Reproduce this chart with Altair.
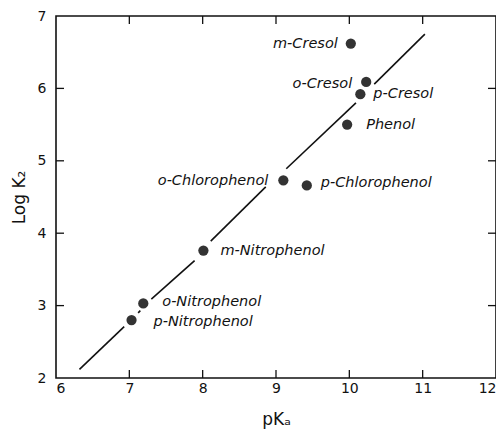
import altair as alt
import pandas as pd

# ---- data ----
names = ["m-Cresol", "o-Cresol", "p-Cresol", "Phenol", "o-Chlorophenol",
         "p-Chlorophenol", "m-Nitrophenol", "o-Nitrophenol", "p-Nitrophenol"]
pka = [10.02, 10.23, 10.15, 9.97, 9.10, 9.42, 8.01, 7.19, 7.03]
logk = [6.62, 6.09, 5.92, 5.50, 4.73, 4.66, 3.76, 3.03, 2.80]

# fitted line, drawn as broken segments (gaps around points/labels)
fit_seg = [0, 0, 1, 1, 2, 2, 3, 3, 4, 4, 5, 5]
fit_pka = [6.32, 6.93, 7.12, 7.15, 7.30, 7.89, 8.11, 8.86, 9.14, 10.09, 10.34, 11.03]
fit_logk = [2.12, 2.71, 2.90, 2.93, 3.09, 3.62, 3.89, 4.64, 4.89, 5.80, 6.06, 6.75]

x_ticks = [6, 7, 8, 9, 10, 11, 12]
y_ticks = [2, 3, 4, 5, 6, 7]
x_inner = [7, 8, 9, 10, 11]
y_inner = [3, 4, 5, 6]

# ---- layout / style (not data) ----
W, H = 440, 362
TICK = 8
FONT = "DejaVu Sans"
label_style = {
    "m-Cresol": ("right", -13, 0),
    "o-Cresol": ("right", -14, 2),
    "p-Cresol": ("left", 13, 0),
    "Phenol": ("left", 19, 0),
    "o-Chlorophenol": ("right", -15, 1),
    "p-Chlorophenol": ("left", 14, -2),
    "m-Nitrophenol": ("left", 17, 0),
    "o-Nitrophenol": ("left", 19, -1),
    "p-Nitrophenol": ("left", 22, 2),
}

pts = pd.DataFrame({"name": names, "pka": pka, "logk": logk})
fit = pd.DataFrame({"seg": fit_seg, "pka": fit_pka, "logk": fit_logk})
xt = pd.DataFrame({"v": x_inner})
yt = pd.DataFrame({"v": y_inner})

xs = alt.Scale(domain=[6, 12], nice=False, zero=False)
ys = alt.Scale(domain=[2, 7], nice=False, zero=False)

x_axis = alt.Axis(values=x_ticks, ticks=False, domain=False, grid=False,
                  labelFontSize=14, labelFont=FONT, labelColor="#111",
                  labelPadding=3, labelFlush=True,
                  title="pKₐ", titleFont=FONT, titleFontSize=17,
                  titleFontWeight="normal", titleColor="#111", titlePadding=16)
y_axis = alt.Axis(values=y_ticks, ticks=False, domain=False, grid=False,
                  labelFontSize=14, labelFont=FONT, labelColor="#111",
                  labelPadding=10, labelFlush=False,
                  title="Log K₂", titleFont=FONT, titleFontSize=17,
                  titleFontWeight="normal", titleColor="#111", titlePadding=9)


def X(f):
    return alt.X(f, scale=xs, axis=x_axis)


def Y(f):
    return alt.Y(f, scale=ys, axis=y_axis)


line = alt.Chart(fit).mark_line(color="#111", strokeWidth=1.6).encode(
    x=X("pka:Q"), y=Y("logk:Q"), detail="seg:N",
)

points = alt.Chart(pts).mark_point(filled=True, size=105, color="#333",
                                   opacity=1).encode(x=X("pka:Q"), y=Y("logk:Q"))

texts = []
for n in names:
    align, dx, dy = label_style[n]
    texts.append(
        alt.Chart(pts).transform_filter(alt.datum.name == n).mark_text(
            align=align, baseline="middle", dx=dx, dy=dy, font=FONT,
            fontSize=14.5, fontStyle="italic", color="#111"
        ).encode(x=X("pka:Q"), y=Y("logk:Q"), text="name:N")
    )

tick_top = alt.Chart(xt).mark_rule(color="#111", strokeWidth=1.3).encode(
    x=X("v:Q"), y=alt.value(0), y2=alt.value(TICK))
tick_bot = alt.Chart(xt).mark_rule(color="#111", strokeWidth=1.3).encode(
    x=X("v:Q"), y=alt.value(H), y2=alt.value(H - TICK))
tick_left = alt.Chart(yt).mark_rule(color="#111", strokeWidth=1.3).encode(
    y=Y("v:Q"), x=alt.value(0), x2=alt.value(TICK))
tick_right = alt.Chart(yt).mark_rule(color="#111", strokeWidth=1.3).encode(
    y=Y("v:Q"), x=alt.value(W), x2=alt.value(W - TICK))

chart = alt.layer(line, points, *texts, tick_top, tick_bot, tick_left, tick_right).properties(
    width=W, height=H,
    background="white",
    autosize=alt.AutoSizeParams(type="none"),
    padding={"left": 48, "top": 8, "right": 0, "bottom": 57},
).configure_view(
    stroke="#111", strokeWidth=1.6
)

chart.save("out.html", embed_options={"renderer": "svg", "actions": False})
